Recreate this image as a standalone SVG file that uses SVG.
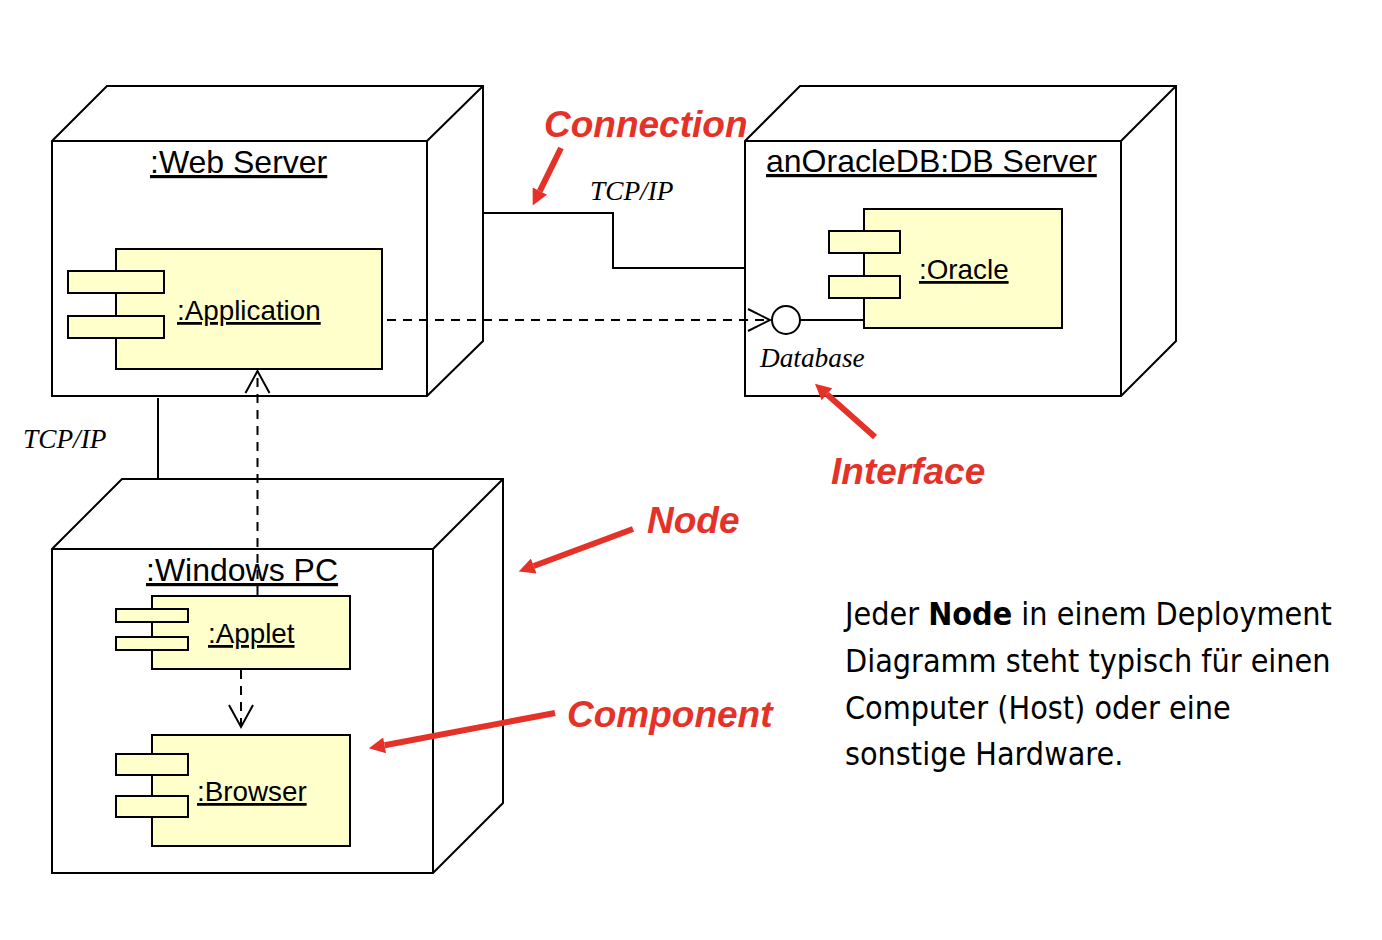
<svg xmlns="http://www.w3.org/2000/svg" width="1382" height="940" viewBox="0 0 1382 940">
<style>
.node{fill:#fff;stroke:#000;stroke-width:2;stroke-linejoin:miter}
.edge{fill:none;stroke:#000;stroke-width:2}
.comp{fill:#ffffcc;stroke:#000;stroke-width:2}
.title{font-family:"Liberation Sans",Arial,sans-serif;font-size:32px;fill:#000;text-decoration:underline}
.clabel{font-family:"Liberation Sans",Arial,sans-serif;font-size:27.8px;fill:#000;text-decoration:underline}
.conn{fill:none;stroke:#000;stroke-width:2}
.dash{fill:none;stroke:#000;stroke-width:2;stroke-dasharray:9 7}
.head{fill:none;stroke:#000;stroke-width:2}
.proto{font-family:"Liberation Serif","Times New Roman",serif;font-style:italic;font-size:27.3px;fill:#000}
.note{font-family:"Liberation Sans",Arial,sans-serif;font-weight:bold;font-style:italic;font-size:37px;fill:#e53228}
.red{fill:none;stroke:#e53228;stroke-width:6}
.para{font-family:"DejaVu Sans Condensed","DejaVu Sans",sans-serif;font-stretch:condensed;font-size:32px;fill:#000}
</style>
<defs>
<marker id="redhead" viewBox="0 0 10 10" refX="0" refY="5" markerWidth="20" markerHeight="16" markerUnits="userSpaceOnUse" orient="auto">
<path d="M0,0 L10,5 L0,10 Z" fill="#e53228"/>
</marker>
</defs>
<rect width="1382" height="940" fill="#fff"/>

<g id="web-server">
<path class="node" d="M52,141 L107,86 L483,86 L483,341 L427,396 L52,396 Z"/>
<path class="edge" d="M52,141 H427 V396 M427,141 L483,86"/>
<text class="title" x="150" y="173">:Web Server</text>
<g id="application">
<rect class="comp" x="116" y="249" width="266" height="120"/>
<rect class="comp" x="68" y="271" width="96" height="22"/>
<rect class="comp" x="68" y="316" width="96" height="22"/>
<text class="clabel" x="177" y="320">:Application</text>
</g>
</g>

<g id="db-server">
<path class="node" d="M745,141 L800,86 L1176,86 L1176,341 L1121,396 L745,396 Z"/>
<path class="edge" d="M745,141 H1121 V396 M1121,141 L1176,86"/>
<text class="title" x="766" y="172">anOracleDB:DB Server</text>
<g id="oracle">
<rect class="comp" x="864" y="209" width="198" height="119"/>
<rect class="comp" x="829" y="231" width="71" height="22"/>
<rect class="comp" x="829" y="276" width="71" height="22"/>
<text class="clabel" x="919" y="279">:Oracle</text>
</g>
<g id="database-interface">
<line class="edge" x1="800" y1="320" x2="864" y2="320"/>
<circle cx="786" cy="320" r="14" fill="#fff" stroke="#000" stroke-width="2"/>
<text class="proto" x="760" y="367">Database</text>
</g>
</g>

<g id="windows-pc">
<path class="node" d="M52,549 L122,479 L503,479 L503,803 L433,873 L52,873 Z"/>
<path class="edge" d="M52,549 H433 V873 M433,549 L503,479"/>
<text class="title" x="146" y="581">:Windows PC</text>
<g id="applet">
<rect class="comp" x="152" y="596" width="198" height="73"/>
<rect class="comp" x="116" y="609" width="72" height="13"/>
<rect class="comp" x="116" y="637" width="72" height="13"/>
<text class="clabel" x="208" y="643">:Applet</text>
</g>
<g id="browser">
<rect class="comp" x="152" y="735" width="198" height="111"/>
<rect class="comp" x="116" y="754" width="72" height="21"/>
<rect class="comp" x="116" y="796" width="72" height="21"/>
<text class="clabel" x="197" y="801">:Browser</text>
</g>
</g>

<g id="connectors">
<path class="conn" d="M483,213 H613 V268 H745"/>
<text class="proto" x="590" y="200">TCP/IP</text>
<line class="conn" x1="158" y1="398" x2="158" y2="478"/>
<text class="proto" x="23" y="448">TCP/IP</text>
<line class="dash" x1="387" y1="320" x2="770" y2="320"/>
<polyline class="head" points="748,309 770,320 748,331"/>
<line class="dash" x1="257.5" y1="595" x2="257.5" y2="373"/>
<polyline class="head" points="245.5,393 257.5,371 269.5,393"/>
<line class="dash" x1="241" y1="670" x2="241" y2="726"/>
<polyline class="head" points="229,705 241,727 253,705"/>
</g>

<g id="annotations">
<text class="note" x="544" y="137">Connection</text>
<line class="red" x1="561" y1="148" x2="539.8" y2="191.1" marker-end="url(#redhead)"/>
<text class="note" x="831" y="484">Interface</text>
<line class="red" x1="875" y1="437" x2="826.9" y2="394.3" marker-end="url(#redhead)"/>
<text class="note" x="647" y="533">Node</text>
<line class="red" x1="633" y1="529" x2="533.7" y2="566" marker-end="url(#redhead)"/>
<text class="note" x="567" y="727">Component</text>
<line class="red" x1="555" y1="713" x2="384.6" y2="745.3" marker-end="url(#redhead)"/>
</g>

<g id="description">
<text class="para" x="845" y="625">Jeder <tspan font-weight="bold">Node</tspan> in einem Deployment</text>
<text class="para" x="845" y="672">Diagramm steht typisch für einen</text>
<text class="para" x="845" y="719">Computer (Host) oder eine</text>
<text class="para" x="845" y="765">sonstige Hardware.</text>
</g>
</svg>
